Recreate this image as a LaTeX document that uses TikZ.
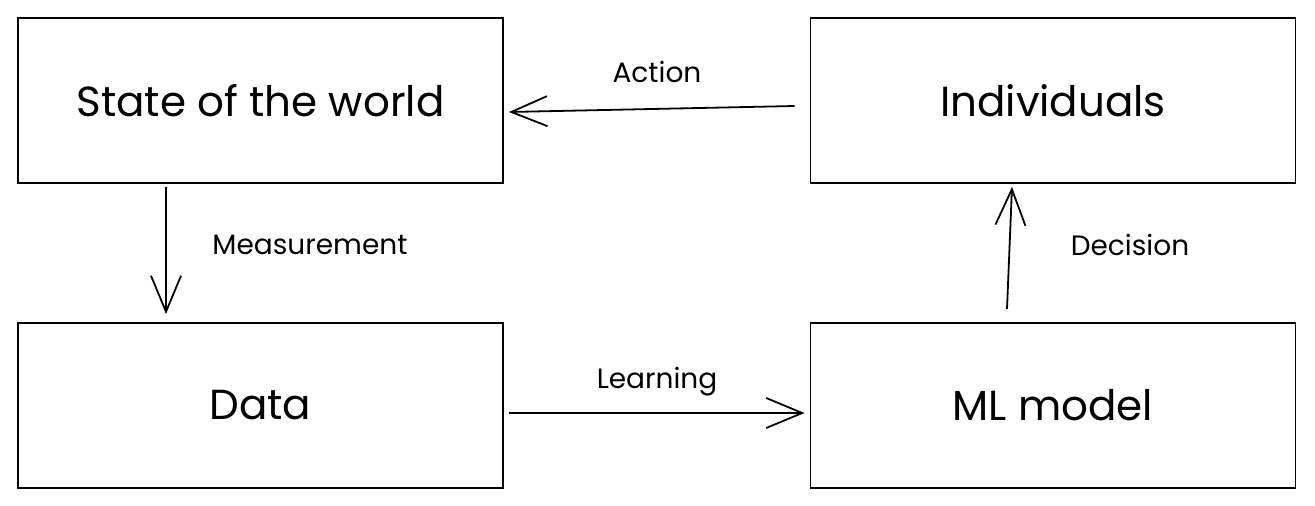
\documentclass[tikz,border=0pt]{standalone}
\usepackage{fontspec}
\setmainfont{Poppins}
\usetikzlibrary{arrows.meta}
\begin{document}
\begin{tikzpicture}[x=1pt,y=-1pt,
  box/.style={draw=black, line width=1.8pt, minimum width=485pt, minimum height=165pt, inner sep=0pt, font=\fontsize{42}{48}\selectfont},
  conn/.style={line width=1.8pt, -{Straight Barb[length=36pt,width=30pt,line width=1.8pt]}},
  lbl/.style={font=\fontsize{28}{32}\selectfont, inner sep=0pt}]
\useasboundingbox (0,0) rectangle (1315,506);
\node[box] (state) at (260.5,100.5) {State of the world};
\node[box] (ind) at (1053,100.5) {Individuals};
\node[box] (data) at (260.5,405.5) {Data};
\node[box] (ml) at (1053,405.5) {ML model};
\draw[conn] ([xshift=-15pt,yshift=-5.5pt]ind.west) -- ([xshift=5pt,yshift=-11.5pt]state.east);
\draw[conn] ([xshift=-94.5pt,yshift=-3pt]state.south) -- ([xshift=-94.5pt,yshift=8pt]data.north);
\draw[conn] ([xshift=5pt,yshift=-7.5pt]data.east) -- ([xshift=-5pt,yshift=-7.5pt]ml.west);
\draw[conn] ([xshift=-46pt,yshift=13pt]ml.north) -- ([xshift=-41pt,yshift=-3pt]ind.south);
\node[lbl] (lact) at (657,72) {Action};
\node[lbl] (lmeas) at (310,245) {Measurement};
\node[lbl] (llearn) at (657,382) {Learning};
\node[lbl] (ldec) at (1130,245) {Decision};
\end{tikzpicture}
\end{document}
